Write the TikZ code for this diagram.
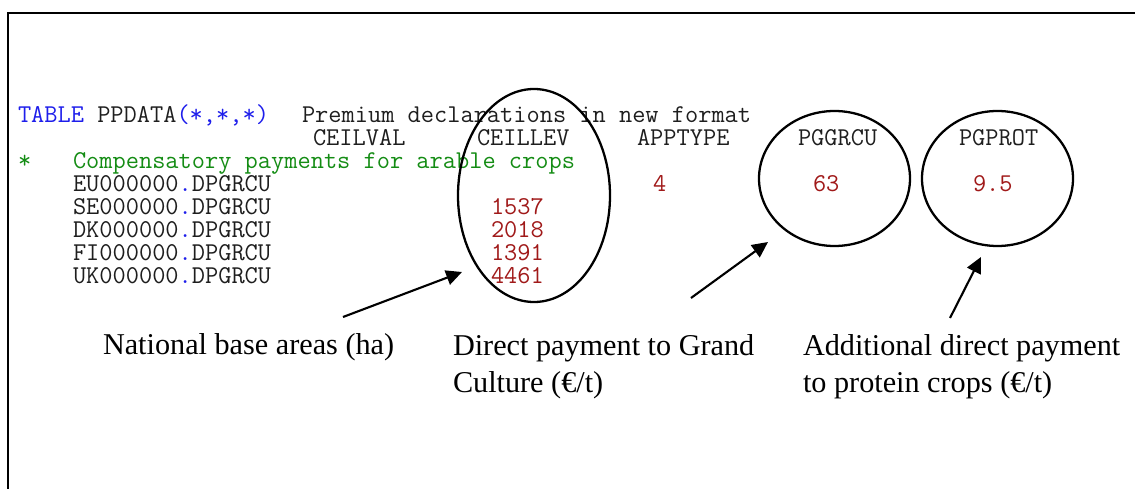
\documentclass[tikz,border=0pt]{standalone}
\usepackage{fontspec}
\setmainfont{Liberation Serif}
\usetikzlibrary{arrows.meta}

\definecolor{kwblue}{RGB}{30,30,235}
\definecolor{cmtgreen}{RGB}{20,140,20}
\definecolor{numred}{RGB}{160,25,25}
\definecolor{codegray}{RGB}{30,30,30}

\tikzset{
  code/.style={anchor=base west, inner sep=0pt, outer sep=0pt,
    font=\fontsize{14.6}{17}\selectfont\ttfamily, text=codegray},
  num/.style={code, text=numred},
  label/.style={anchor=base west, inner sep=0pt, outer sep=0pt,
    font=\fontsize{17.2}{21}\selectfont, align=left},
  pointer/.style={line width=1.2pt, -{Triangle[length=9pt,width=8.5pt]}},
}

\begin{document}
\begin{tikzpicture}[x=0.02cm, y=-0.02cm]
\useasboundingbox (0,0) rectangle (1135,489);

% outer frame (runs past the right and bottom edges)
\draw[line width=1.1pt] (8,500) -- (8,13) -- (1145,13);

% table header
\node[code] (t1) at (18,123) {\textcolor{kwblue}{TABLE} PPDATA\textcolor{kwblue}{(*,*,*)}};
\node[code] (t1b) at (302,123) {Premium declarations in new format};
\node[code] (h1) at (313,146) {CEILVAL};
\node[code] (h2) at (477,146) {CEILLEV};
\node[code] (h3) at (637,146) {APPTYPE};
\node[code] (h4) at (798,146) {PGGRCU};
\node[code] (h5) at (959,146) {PGPROT};

% comment line
\node[code, text=cmtgreen] (c0) at (18,169) {*};
\node[code, text=cmtgreen] (c1) at (73,169) {Compensatory payments for arable crops};

% data rows
\node[code] (r1) at (73,192) {EU000000\textcolor{kwblue}{.}DPGRCU};
\node[code] (r2) at (73,215) {SE000000\textcolor{kwblue}{.}DPGRCU};
\node[code] (r3) at (73,238) {DK000000\textcolor{kwblue}{.}DPGRCU};
\node[code] (r4) at (73,261) {FI000000\textcolor{kwblue}{.}DPGRCU};
\node[code] (r5) at (73,284) {UK000000\textcolor{kwblue}{.}DPGRCU};

\node[num] (v4) at (653,192) {4};
\node[num] (v63) at (813,192) {63};
\node[num] (v95) at (973,192) {9.5};
\node[num] (n1) at (491,215) {1537};
\node[num] (n2) at (491,238) {2018};
\node[num] (n3) at (491,261) {1391};
\node[num] (n4) at (491,284) {4461};

% highlighted columns
\draw[line width=1.3pt] (534,195.5) ellipse [x radius=76, y radius=106.5];
\draw[line width=1.3pt] (834.5,178.5) ellipse [x radius=75.5, y radius=67.5];
\draw[line width=1.3pt] (997.5,178.5) ellipse [x radius=75.5, y radius=67.5];

% explanations (base anchor sits on the last line)
\node[label] (l1) at (103,355) {National base areas (ha)};
\node[label] (l2) at (453,392) {Direct payment to Grand\\Culture (\texteuro/t)};
\node[label] (l3) at (803,392) {Additional direct payment\\to protein crops (\texteuro/t)};

% pointers
\coordinate (a1s) at (343,317);
\coordinate (a1e) at (462,272);
\coordinate (a2s) at (691,298);
\coordinate (a2e) at (768,242);
\coordinate (a3s) at (950,318);
\coordinate (a3e) at (981,257);
\draw[pointer] (a1s) -- (a1e);
\draw[pointer] (a2s) -- (a2e);
\draw[pointer] (a3s) -- (a3e);
\end{tikzpicture}
\end{document}
